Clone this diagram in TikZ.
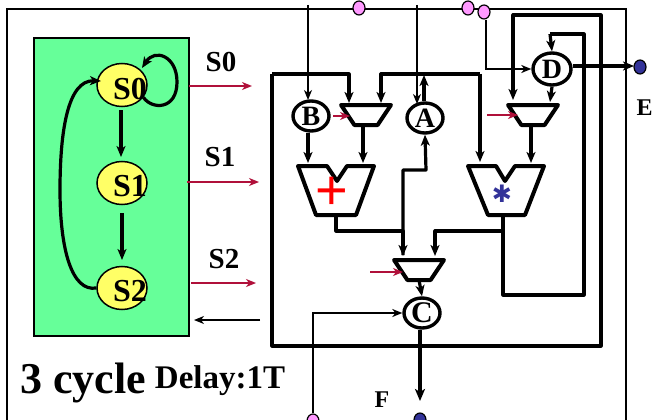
\documentclass[tikz,border=0pt]{standalone}
\usepackage{xcolor}
\usepackage{fontspec}
\setmainfont{Liberation Serif}
\newfontfamily\symfont{DejaVu Sans}
\newfontfamily\plusfont{Liberation Sans}
\usetikzlibrary{positioning,arrows.meta,shapes.geometric}
\definecolor{fsmgreen}{HTML}{66FF99}
\definecolor{fsmyellow}{HTML}{FFFF66}
\definecolor{pinkdot}{HTML}{FF99FF}
\definecolor{bluedot}{HTML}{333399}
\definecolor{ctrlred}{HTML}{B0103A}

\begin{document}
\begin{tikzpicture}[x=1pt, y=-1pt,
    thinarrow/.style={draw, line width=1.4pt, -{Stealth[length=10pt, width=8pt, inset=3pt]}},
    thickarrow/.style={draw, line width=3.2pt, line join=round, -{Stealth[length=11pt, width=9pt, inset=3pt]}},
    ctrlarrow/.style={draw=ctrlred, line width=1.4pt, -{Stealth[length=10pt, width=8pt, inset=3pt]}},
    wire/.style={draw, line width=3.2pt, line join=round},
    state/.style={draw, ellipse, fill=fsmyellow, line width=1.5pt, minimum width=50pt, minimum height=43pt, inner sep=0pt},
    reg/.style={draw, ellipse, fill=white, line width=3.4pt, inner sep=0pt, font=\bfseries\fontsize{28}{28}\selectfont},
    mux/.style={draw, trapezium, shape border rotate=180, fill=white, line width=4pt, line join=round, trapezium stretches=true, trapezium angle=60, minimum width=50pt, minimum height=20pt, inner sep=1pt, outer sep=0pt},
    alu/.style={draw, line width=4pt, line join=round, fill=white},
    pinkpin/.style={draw, ellipse, fill=pinkdot, line width=1.2pt, minimum width=12pt, minimum height=14pt, inner sep=0pt},
    bluepin/.style={draw, ellipse, fill=bluedot, line width=1.2pt, minimum width=12pt, minimum height=14pt, inner sep=0pt},
    lbl/.style={font=\bfseries\fontsize{29}{29}\selectfont, inner sep=0pt}]
\clip (0,0) rectangle (653,420);
\fill[white] (0,0) rectangle (653,420);

% outer frame
\draw[line width=2.6pt] (7,420) -- (7,9) -- (626,9) -- (626,420);

% state machine
\node[draw, fill=fsmgreen, line width=1.5pt, minimum width=155pt, minimum height=298pt, inner sep=0pt] (fsm) at (111.5,187) {};
\node[state, label={[lbl, font=\bfseries\fontsize{32}{32}\selectfont, xshift=8pt, yshift=-4pt]center:S0}] (s0) at (122,85) {};
\node[state, label={[lbl, font=\bfseries\fontsize{32}{32}\selectfont, xshift=8pt, yshift=-3pt]center:S1}] (s1) at (122,183) {};
\node[state, label={[lbl, font=\bfseries\fontsize{32}{32}\selectfont, xshift=8pt, yshift=-3pt]center:S2}] (s2) at (122,288) {};
\draw[thickarrow] (121,110) -- (121,157);
\draw[thickarrow] (122,213) -- (122,260);
\draw[thickarrow] (s0.-30) .. controls (152,110) and (177,110) .. (177,82) .. controls (177,56) and (155,48) .. (142,68);
\draw[thickarrow] (s2.west) .. controls (72,292) and (60,250) .. (60,190) .. controls (60,130) and (68,80) .. (101,81);

% control signals
\coordinate (s0out) at (189,86);
\coordinate (s0in) at (252,86);
\coordinate (s1out) at (187,182);
\coordinate (s1in) at (259,182);
\coordinate (s2out) at (191,283);
\coordinate (s2in) at (256,283);
\coordinate (doneout) at (260,320);
\coordinate (donein) at (194,320);
\draw[ctrlarrow] (s0out) -- (s0in);
\draw[ctrlarrow] (s1out) -- (s1in);
\draw[ctrlarrow] (s2out) -- (s2in);
\draw[thinarrow] (doneout) -- (donein);
\node[lbl] (lab_s0) at (221,62) {S0};
\node[lbl] (lab_s1) at (220,157) {S1};
\node[lbl] (lab_s2) at (224,259) {S2};

% datapath frame
\draw[wire] (272,74) -- (272,346) -- (601,346) -- (601,15) -- (513,15) -- (513,30);

% registers and muxes
\node[reg, minimum width=36pt, minimum height=30pt] (regB) at (311,116) {B};
\node[reg, minimum width=36pt, minimum height=30pt] (regA) at (425,118) {A};
\node[reg, minimum width=38pt, minimum height=32pt] (regD) at (552,69) {D};
\node[reg, minimum width=36pt, minimum height=30pt, font=\bfseries\fontsize{30}{30}\selectfont] (regC) at (422,313) {C};
\node[mux] (mux1) at (366,115) {};
\node[mux] (mux2) at (533,115) {};
\node[mux] (mux3) at (419,270) {};

% adder and multiplier
\draw[alu] (298,166) -- (327,166) -- (337,181) -- (347,166) -- (374,166) -- (356,215) -- (316,215) -- cycle;
\draw[alu] (468,166) -- (496,166) -- (505,181) -- (515,166) -- (544,166) -- (525,215) -- (488,215) -- cycle;
\node[text=red, font=\plusfont\fontsize{56}{56}\selectfont, inner sep=0pt] (plus) at (332,193) {+};
\node[text=bluedot, font=\symfont\fontsize{24}{24}\selectfont, inner sep=0pt] (star) at (502,194) {✱};

% pins
\node[pinkpin] (pin1) at (359,8) {};
\node[pinkpin] (pin2) at (468,8) {};
\node[pinkpin] (pin3) at (484,12) {};
\node[pinkpin] (pin4) at (313,421) {};
\node[bluepin] (pinE) at (640,67) {};
\node[bluepin] (pinF) at (420,420) {};
\node[lbl, font=\bfseries\fontsize{24}{24}\selectfont] (lab_E) at (644.5,108) {E};
\node[lbl, font=\bfseries\fontsize{24}{24}\selectfont] (lab_F) at (382,400) {F};

% bus lines into registers
\coordinate (busB) at (308,5);
\coordinate (busA) at (417,5);
\draw[thinarrow] (busB) -- (308,100);
\draw[thinarrow] (busA) -- (417,104);
\draw[thinarrow] (pin3.south) ++(2,0) |- (regD.west);
\draw[thinarrow] (pin4.north) |- (regC.west);

% datapath wires
\draw[thickarrow] (272,74) -- (349,74) -- (349,103);
\draw[thickarrow] (480,74) -- (381,74) -- (381,103);
\draw[thickarrow] (480,74) -- (480,162);
\draw[thickarrow] (regA.north) ++(-1,0) -- (424,75);
\draw[thickarrow] (regB.south) ++(-3,0) -- (308,163);
\draw[thickarrow] (mux1.south) ++(-3,0) -- (363,163);
\draw[thickarrow] (mux2.south) ++(-2,0) -- (531,163);
\draw[thickarrow] (403,255) -- (403,170) -- (426,170) -- (regA.south);
\draw[thickarrow] (336,215) -- (336,231) -- (403,231) -- (403,256);
\draw[thickarrow] (503,231) -- (435,231) -- (435,256);
\draw[wire] (503,215) -- (503,295) -- (584,295) -- (584,34) -- (550,34);
\draw[thickarrow] (550,34) -- (regD.north);
\draw[thickarrow] (513,15) -- (513,100);
\draw[thickarrow] (regD.south) -- (550,102);
\draw[thickarrow] (regD.east) ++(0,-3) -- (634,66);
\draw[thickarrow] (mux3.south) -- (regC.north);
\draw[line width=3.6pt, -{Stealth[length=12pt, width=10pt, inset=3pt]}] (regC.south) ++(-2,0) -- (420,401);

% mux selects
\coordinate (sel1) at (333,116);
\coordinate (sel2) at (487,115);
\coordinate (sel3) at (370,272);
\draw[ctrlarrow] (sel1) -- (350,116);
\draw[ctrlarrow] (sel2) -- (518,115);
\draw[ctrlarrow] (sel3) -- (403,272);

% captions
\node[font=\bfseries\fontsize{44}{44}\selectfont, inner sep=0pt] (cycles) at (83,383) {3 cycle};
\node[font=\bfseries\fontsize{33}{33}\selectfont, inner sep=0pt] (delay) at (220,381) {Delay:1T};
\end{tikzpicture}
\end{document}
